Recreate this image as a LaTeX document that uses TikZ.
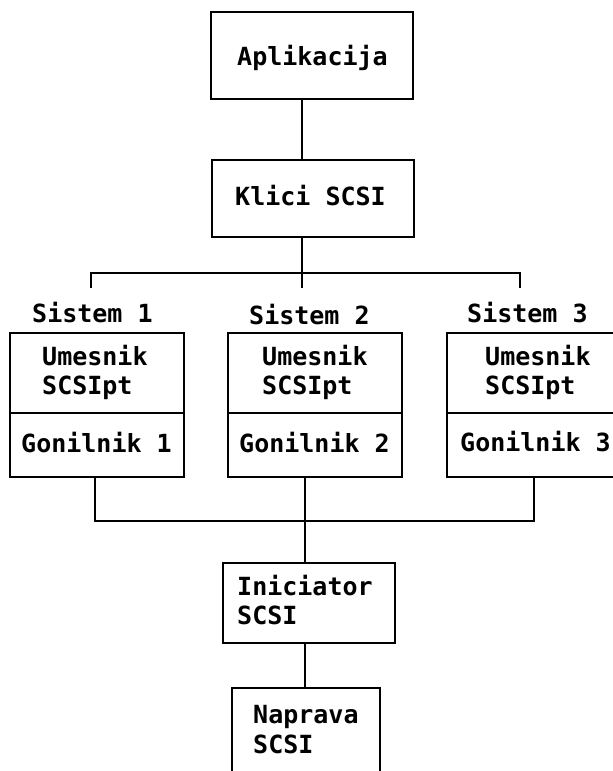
\documentclass[tikz,border=0pt]{standalone}
\usepackage{fontspec}
\newfontfamily\pxfont{DejaVu Sans Mono}
\begin{document}
\begin{tikzpicture}[x=1pt,y=-1pt,
  box/.style={draw,line width=1.3pt,rectangle,inner sep=0pt,minimum width=#1},
  lbl/.style={anchor=base west,inner sep=0pt,font=\pxfont\bfseries\fontsize{25}{29}\selectfont},
  wire/.style={line width=1.3pt}]
\useasboundingbox (0,0) rectangle (613,771);
\clip (0,0) rectangle (613,771);
\fill[white] (0,0) rectangle (613,771);
% boxes
\node[box=202pt,minimum height=87pt] (apl) at (312,55.5) {};
\node[box=202pt,minimum height=77pt] (klici) at (313,198.5) {};
\node[box=174pt,minimum height=144pt] (b1) at (97,405) {};
\node[box=174pt,minimum height=144pt] (b2) at (315,405) {};
\node[box=174pt,minimum height=144pt] (b3) at (534,405) {};
\node[box=172pt,minimum height=80pt] (ini) at (309,603) {};
\node[box=148pt,minimum height=90pt] (nap) at (306,733) {};
% dividers
\foreach \b in {b1,b2,b3}
  \draw[wire] ([yshift=-8pt]\b.west) -- ([yshift=-8pt]\b.east);
% texts
\node[lbl] (tapl) at (237,65) {Aplikacija};
\node[lbl] (tklici) at (235,205) {Klici SCSI};
\node[lbl] (s1) at (32,322) {Sistem 1};
\node[lbl] (s2) at (249,324) {Sistem 2};
\node[lbl] (s3) at (467,322) {Sistem 3};
\node[lbl] (u1) at (42,365) {Umesnik};
\node[lbl] (p1) at (42,394) {SCSIpt};
\node[lbl] (g1) at (21,452) {Gonilnik 1};
\node[lbl] (u2) at (262,365) {Umesnik};
\node[lbl] (p2) at (262,394) {SCSIpt};
\node[lbl] (g2) at (239,452) {Gonilnik 2};
\node[lbl] (u3) at (485,365) {Umesnik};
\node[lbl] (p3) at (485,394) {SCSIpt};
\node[lbl] (g3) at (460,451) {Gonilnik 3};
\node[lbl] (i1) at (237,595) {Iniciator};
\node[lbl] (i2) at (237,624) {SCSI};
\node[lbl] (n1) at (253,723) {Naprava};
\node[lbl] (n2) at (253,753) {SCSI};
% bus coordinates
\coordinate (colA) at (302,0);
\coordinate (busT) at (302,273);
\coordinate (busTL) at (91,273);
\coordinate (busTR) at (520,273);
\coordinate (tickL) at (91,288);
\coordinate (tickM) at (302,288);
\coordinate (tickR) at (520,288);
\coordinate (busB) at (305,521);
% connectors
\draw[wire] (apl.south -| colA) -- (klici.north -| colA);
\draw[wire] (klici.south -| colA) -- (busT);
\draw[wire] (tickL) -- (busTL) -- (busTR) -- (tickR);
\draw[wire] (busT) -- (tickM);
\draw[wire] ([xshift=-2pt]b1.south) |- (busB);
\draw[wire] (b3.south) |- (busB);
\draw[wire] ([xshift=-10pt]b2.south) -- ([xshift=-10pt]b2.south |- busB);
\draw[wire] (busB) -- (ini.north -| busB);
\draw[wire] ([xshift=-4pt]ini.south) -- ([xshift=-4pt]ini.south |- nap.north);
\end{tikzpicture}
\end{document}
